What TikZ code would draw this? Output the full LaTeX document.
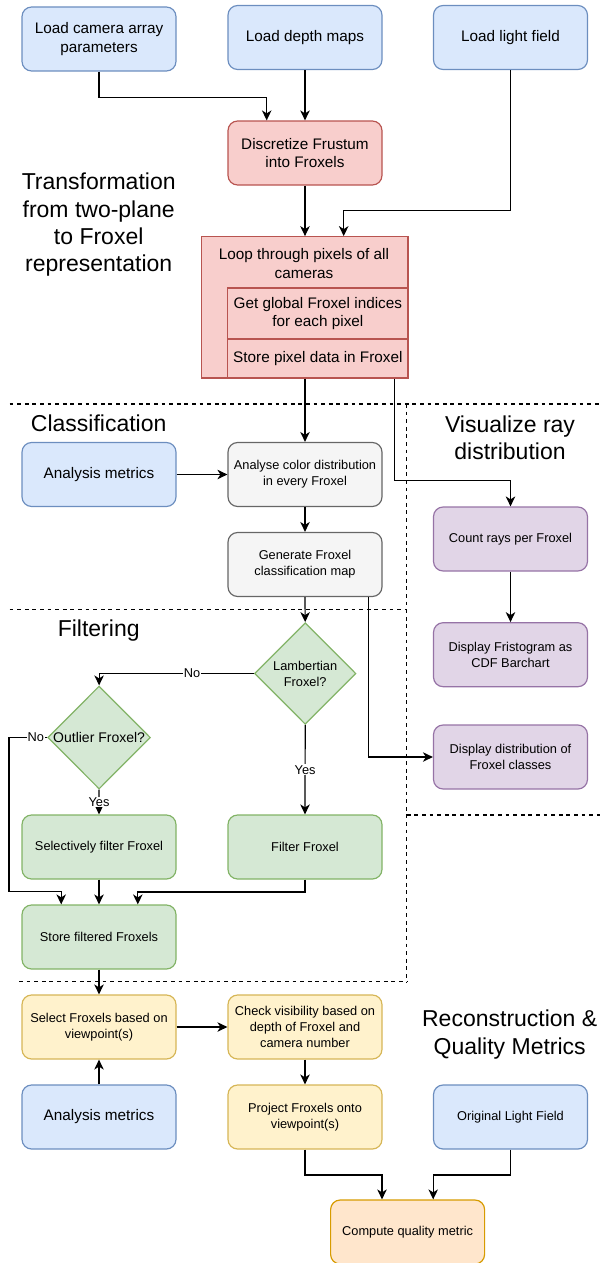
\documentclass[tikz,border=0pt]{standalone}
\usepackage{fontspec}
\setmainfont{Liberation Sans}
\usetikzlibrary{shapes.geometric,arrows.meta,calc}
\definecolor{bluef}{HTML}{DAE8FC}\definecolor{blued}{HTML}{6C8EBF}
\definecolor{redf}{HTML}{F8CECC}\definecolor{redd}{HTML}{B85450}
\definecolor{grayf}{HTML}{F5F5F5}\definecolor{grayd}{HTML}{666666}
\definecolor{purf}{HTML}{E1D5E7}\definecolor{purd}{HTML}{9673A6}
\definecolor{grnf}{HTML}{D5E8D4}\definecolor{grnd}{HTML}{82B366}
\definecolor{yelf}{HTML}{FFF2CC}\definecolor{yeld}{HTML}{D6B656}
\definecolor{orf}{HTML}{FFE6CC}\definecolor{ord}{HTML}{D79B00}
\begin{document}
\begin{tikzpicture}[x=1pt,y=-1pt,
  box/.style={rectangle, rounded corners=9.6pt, minimum width=154pt, minimum height=64pt, inner sep=1pt, align=center, line width=1.2pt},
  big/.style={font=\fontsize{15.3}{18.3}\selectfont},
  small/.style={font=\fontsize{12.8}{16}\selectfont},
  title/.style={align=center, font=\fontsize{23}{27.3}\selectfont},
  blue/.style={box, fill=bluef, draw=blued},
  red/.style={fill=redf, draw=redd, line width=1.2pt},
  gray/.style={box, fill=grayf, draw=grayd},
  purple/.style={box, fill=purf, draw=purd},
  green/.style={box, fill=grnf, draw=grnd},
  yellow/.style={box, fill=yelf, draw=yeld},
  orange/.style={box, fill=orf, draw=ord},
  dia/.style={diamond, fill=grnf, draw=grnd, line width=1.2pt, inner sep=0pt, align=center},
  arr/.style={-{Stealth[length=10pt,width=9.5pt,inset=3pt]}, line width=1.2pt},
  lbl/.style={fill=white, inner sep=1pt, font=\fontsize{12.8}{14}\selectfont},
  sep/.style={dash pattern=on 3.8pt off 3.8pt, line width=1.2pt}
]
\useasboundingbox (0,0) rectangle (600,1263);

% dashed separators
\draw[sep] (9.6,404) -- (600,404);
\draw[sep] (406.8,404) -- (406.8,981.7);
\draw[sep] (9.6,609.3) -- (406.8,609.3);
\draw[sep] (406.8,815) -- (600,815);
\draw[sep] (19,981.7) -- (406.8,981.7);

% titles
\node[title] (t1) at (98.7,225) {Transformation\\from two-plane\\to Froxel\\representation};
\node[title] (t2) at (98.7,423.5) {Classification};
\node[title] (t3) at (510,437.5) {Visualize ray\\distribution};
\node[title] (t4) at (98.7,630.5) {Filtering};
\node[title] (t5) at (509.7,1034.5) {Reconstruction \&\\Quality Metrics};

% top
\node[blue,big] (cam) at (99,39) {Load camera array\\parameters};
\node[blue,big] (depth) at (305,37.5) {Load depth maps};
\node[blue,big] (lf) at (510.5,37.5) {Load light field};
\node[box,red,big] (disc) at (305,153) {Discretize Frustum\\into Froxels};

% loop container
\node[rectangle, red, minimum width=206.3pt, minimum height=141.3pt, inner sep=0pt] (loop) at (304.85,307.35) {};
\node[big, align=center] (looptitle) at (304,263.5) {Loop through pixels of all\\cameras};
\node[rectangle, red, big, align=center, minimum width=180.3pt, minimum height=51pt, inner sep=0pt] (loopA) at (317.85,313.5) {Get global Froxel indices\\for each pixel};
\node[rectangle, red, big, align=center, minimum width=180.3pt, minimum height=39pt, inner sep=0pt] (loopB) at (317.85,358.5) {Store pixel data in Froxel};

\draw[arr] (cam.south) -- ++(0,26.2) -| ([xshift=-38.3pt]disc.north);
\draw[arr] (depth.south) -- (disc.north);
\draw[arr] (disc.south) -- (disc.south |- loop.north);
\draw[arr] (lf.south) -- ++(0,140.5) -| ([xshift=38.85pt]loop.north);

% classification
\node[blue,big] (am1) at (99,474.5) {Analysis metrics};
\node[gray,small] (acd) at (305,474.5) {Analyse color distribution\\in every Froxel};
\node[gray,small] (gen) at (305,564.5) {Generate Froxel\\classification map};
\node[purple,small] (cnt) at (510.5,539) {Count rays per Froxel};
\node[purple,small] (fri) at (510.5,654.7) {Display Fristogram as\\CDF Barchart};
\node[purple,small] (dis) at (510.5,757) {Display distribution of\\Froxel classes};

\draw[arr] (acd.north |- loop.south) -- (acd.north);
\draw[arr] ([xshift=89.75pt]loop.south) -- ++(0,102) -| (cnt.north);
\draw[arr] (am1.east) -- (acd.west);
\draw[arr] (acd.south) -- (gen.north);
\draw[arr] (cnt.south) -- (fri.north);

% filtering
\node[dia, minimum width=101.4pt, minimum height=101.6pt, font=\fontsize{12.8}{16}\selectfont] (lam) at (305.2,673.5) {Lambertian\\Froxel?};
\node[dia, minimum width=102.6pt, minimum height=103pt, font=\fontsize{14}{16}\selectfont] (out) at (99.1,737.5) {Outlier Froxel?};
\node[green,small] (sel) at (99,847) {Selectively filter Froxel};
\node[green,small] (filt) at (305,847) {Filter Froxel};
\node[green,small] (store) at (99,937) {Store filtered Froxels};

\draw[arr] (gen.south) -- (lam.north);
\draw[arr] ([xshift=63.5pt]gen.south) |- (dis.west);
\draw[arr] (lam.west) -| (out.north) node[lbl, pos=0.2] {No};
\draw[arr] (out.west) -- ++(-38.2,0) node[lbl, pos=0.3] {No} -- ++(0,154.2) -| ([xshift=-37.8pt]store.north);
\draw[arr] (out.south) -- (sel.north) node[lbl, pos=0.5] {Yes};
\draw[arr] (lam.south) -- (filt.north) node[lbl, pos=0.5] {Yes};
\draw[arr] (sel.south) -- (store.north);
\draw[arr] (filt.south) -- ++(0,12.4) -| ([xshift=38.8pt]store.north);

% reconstruction
\node[yellow,small] (selF) at (99,1027) {Select Froxels based on\\viewpoint(s)};
\node[yellow,small] (chk) at (305,1027) {Check visibility based on\\depth of Froxel and\\camera number};
\node[blue,big] (am2) at (99,1117) {Analysis metrics};
\node[yellow,small] (proj) at (305,1117) {Project Froxels onto\\viewpoint(s)};
\node[blue,small] (olf) at (510.5,1117) {Original Light Field};
\node[orange,small] (comp) at (407.6,1232) {Compute quality metric};

\draw[arr] (store.south) -- (selF.north);
\draw[arr] (selF.east) -- (chk.west);
\draw[arr] (am2.north) -- (selF.south);
\draw[arr] (chk.south) -- (proj.north);
\draw[arr] (proj.south) -- ++(0,25.3) -| ([xshift=-25.6pt]comp.north);
\draw[arr] (olf.south) -- ++(0,25.3) -| ([xshift=25.6pt]comp.north);
\end{tikzpicture}
\end{document}
